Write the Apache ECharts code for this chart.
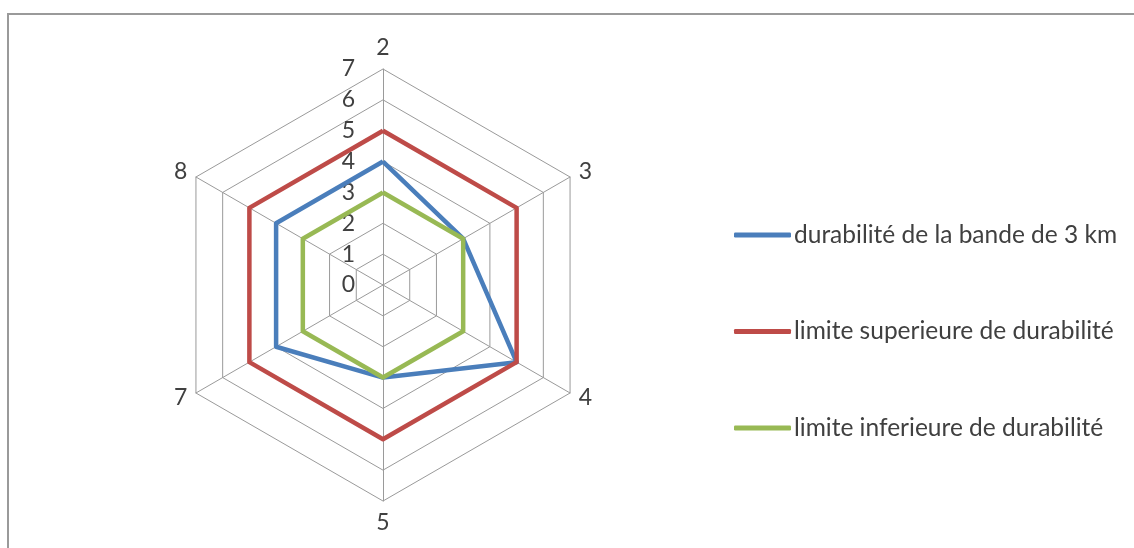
<!DOCTYPE html>
<html>
<head>
<meta charset="utf-8">
<script src="https://cdn.jsdelivr.net/npm/echarts@6/dist/echarts.min.js"></script>
<style>
  html, body { margin: 0; padding: 0; background: #fff; }
  #chart { width: 1134px; height: 548px; }
</style>
</head>
<body>
<div id="chart"></div>
<script>
// axes in drawing order (top, then counterclockwise)
const axes = ['2', '8', '7', '5', '4', '3'];
const tickLabels = ['0', '1', '2', '3', '4', '5', '6', '7'];
const seriesNames = ['durabilité de la bande de 3 km', 'limite superieure de durabilité', 'limite inferieure de durabilité'];
const bande3km = [4, 4, 4, 3, 5, 3];
const limiteSup = [5, 5, 5, 5, 5, 5];
const limiteInf = [3, 3, 3, 3, 3, 3];
const colors = ['#4a7ebb', '#be4b48', '#98b954'];

const FONT = 'Lato, "Noto Sans", sans-serif';
const chart = echarts.init(document.getElementById('chart'));

const lineSeries = (name, values, color) => ({
    name: name,
    type: 'radar',
    symbol: 'none',
    data: [{ value: values, name: name }],
    lineStyle: { color: color, width: 4.5 },
    itemStyle: { color: color }
});

chart.setOption({
    backgroundColor: '#fff',
    animation: false,
    textStyle: { fontFamily: FONT },
    graphic: [{
        type: 'polyline',
        shape: { points: [[8, 548], [8, 14], [1134, 14]] },
        style: { stroke: '#9a9a9a', lineWidth: 2, fill: null }
    }],
    legend: {
        orient: 'vertical',
        left: 734,
        top: 221,
        padding: 0,
        itemWidth: 57,
        itemHeight: 5,
        itemGap: 68.5,
        icon: 'roundRect',
        data: seriesNames,
        textStyle: { color: '#404040', fontSize: 24.5, fontFamily: FONT, lineHeight: 28, padding: [0, 0, 0, -2] }
    },
    radar: {
        center: [383, 285],
        radius: 216,
        startAngle: 90,
        splitNumber: 7,
        shape: 'polygon',
        nameGap: 10,
        indicator: axes.map(n => ({ name: n, min: 0, max: 7 })),
        axisName: { color: '#404040', fontSize: 23, fontFamily: FONT },
        axisLine: { lineStyle: { color: '#9a9a9a', width: 1 } },
        splitLine: { lineStyle: { color: '#9a9a9a', width: 1 } },
        splitArea: { show: false },
        axisTick: { show: false },
        axisLabel: { show: false }
    },
    // value scale labels along the top axis
    grid: { left: 383, top: 69, width: 1, height: 216 },
    xAxis: { type: 'value', show: false },
    yAxis: {
        type: 'value',
        min: 0,
        max: 7,
        interval: 1,
        axisLine: { show: false },
        axisTick: { show: false },
        splitLine: { show: false },
        axisLabel: {
            margin: 28,
            color: '#404040',
            fontSize: 23,
            fontFamily: FONT,
            padding: [9, 0, 0, 0],
            formatter: v => tickLabels[v]
        }
    },
    series: [
        lineSeries(seriesNames[0], bande3km, colors[0]),
        lineSeries(seriesNames[1], limiteSup, colors[1]),
        lineSeries(seriesNames[2], limiteInf, colors[2])
    ]
});
</script>
</body>
</html>
